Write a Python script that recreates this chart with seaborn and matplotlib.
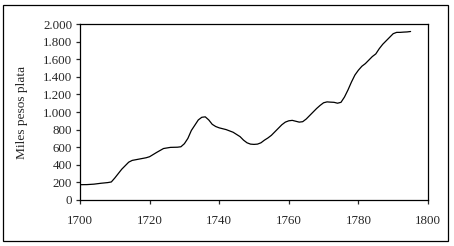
import matplotlib
matplotlib.use("Agg")
import numpy as np
import pandas as pd
import seaborn as sns
from matplotlib import pyplot as plt
from matplotlib.patches import Rectangle

# Datos (miles de pesos plata)
anios = [1700, 1702, 1704, 1706, 1708, 1709, 1710, 1712, 1714, 1715, 1717, 1719,
         1720, 1722, 1724, 1726, 1728, 1729, 1730, 1731, 1732, 1733, 1734, 1735,
         1736, 1737, 1738, 1739, 1740, 1742, 1744, 1745, 1746, 1747, 1748, 1749,
         1750, 1751, 1752, 1753, 1754, 1755, 1756, 1757, 1758, 1759, 1760, 1761,
         1762, 1763, 1764, 1765, 1766, 1767, 1768, 1769, 1770, 1771, 1772, 1773,
         1774, 1775, 1776, 1777, 1778, 1779, 1780, 1781, 1782, 1783, 1784, 1785,
         1786, 1787, 1788, 1789, 1790, 1791, 1792, 1793, 1794, 1795]
valores = [174, 175, 180, 190, 198, 205, 250, 350, 430, 450, 465, 480,
           492, 540, 585, 598, 600, 605, 640, 700, 790, 850, 910, 940,
           945, 910, 860, 835, 820, 800, 770, 745, 720, 680, 650, 635,
           632, 635, 650, 680, 705, 735, 775, 815, 855, 885, 900, 905,
           895, 885, 890, 920, 960, 1000, 1040, 1075, 1105, 1115, 1112, 1110,
           1100, 1110, 1170, 1250, 1340, 1420, 1475, 1520, 1550, 1590, 1630, 1660,
           1720, 1770, 1810, 1850, 1890, 1905, 1905, 1908, 1910, 1915]

ticks_y = [0, 200, 400, 600, 800, 1000, 1200, 1400, 1600, 1800, 2000]
etiquetas_y = ["0", "200", "400", "600", "800", "1.000", "1.200", "1.400",
               "1.600", "1.800", "2.000"]
ticks_x = [1700, 1720, 1740, 1760, 1780, 1800]

df = pd.DataFrame({"Año": anios, "Valor": valores})

sns.set_style("ticks")
plt.rcParams['font.family'] = ['Liberation Serif', 'DejaVu Serif']
plt.rcParams['axes.linewidth'] = 0.9
plt.rcParams['xtick.major.width'] = 0.9
plt.rcParams['ytick.major.width'] = 0.9
plt.rcParams['xtick.major.size'] = 2.7
plt.rcParams['ytick.major.size'] = 2.7

fig = plt.figure(figsize=(4.54, 2.46), dpi=100)
ax = fig.add_axes([0.1762, 0.187, 0.7665, 0.7154])

sns.lineplot(data=df, x="Año", y="Valor", ax=ax, color="black", linewidth=0.9)

ax.set_xlim(1700, 1800)
ax.set_ylim(0, 2000)
ax.set_xticks(ticks_x)
ax.set_xticklabels([str(t) for t in ticks_x], fontsize=9.3)
ax.set_yticks(ticks_y)
ax.set_yticklabels(etiquetas_y, fontsize=9.3)
ax.tick_params(axis="x", pad=8)
ax.tick_params(axis="y", pad=3)
ax.set_xlabel("")
ax.set_ylabel("Miles pesos plata", fontsize=9.6, labelpad=11)
for s in ax.spines.values():
    s.set_color("black")

# Marco exterior
fig.patches.append(Rectangle((0.0066, 0.02), 0.98, 0.96, transform=fig.transFigure,
                             fill=False, edgecolor="black", linewidth=0.9))

fig.savefig("out.png", dpi=100)
